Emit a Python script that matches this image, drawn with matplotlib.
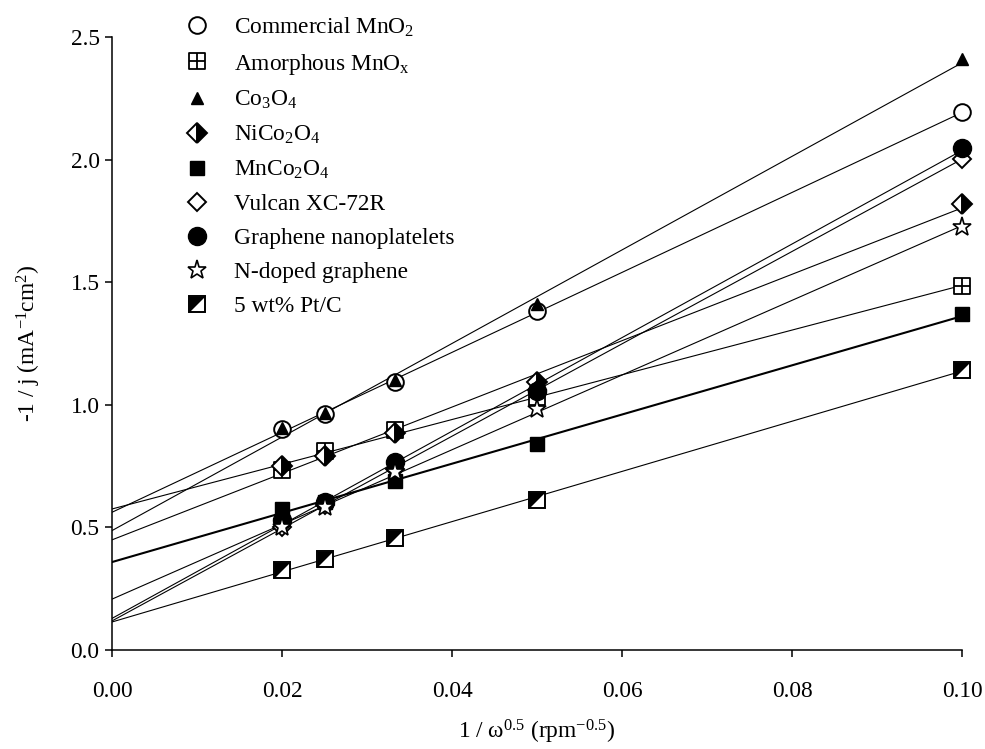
import numpy as np
import matplotlib
matplotlib.use("Agg")
import matplotlib.pyplot as plt
from matplotlib.path import Path
from matplotlib.legend_handler import HandlerTuple

plt.rcParams['font.family'] = ['Liberation Serif', 'DejaVu Serif']
plt.rcParams['mathtext.fontset'] = 'custom'
plt.rcParams['mathtext.rm'] = 'Liberation Serif'
plt.rcParams['mathtext.it'] = 'Liberation Serif:italic'
plt.rcParams['mathtext.default'] = 'regular'

# Rotation rates (rpm) and the resulting 1/omega^0.5 abscissa
rpm = np.array([2500, 1600, 900, 400, 100])
inv_sqrt_omega = rpm ** -0.5

labels = [
    'Commercial MnO$_2$',
    'Amorphous MnO$_x$',
    'Co$_3$O$_4$',
    'NiCo$_2$O$_4$',
    'MnCo$_2$O$_4$',
    'Vulcan XC-72R',
    'Graphene nanoplatelets',
    'N-doped graphene',
    '5 wt% Pt/C',
]

# -1/j (mA^-1 cm^2) at each rotation rate
commercial_mno2 = [0.903, 0.961, 1.093, 1.381, 2.193]
amorphous_mnox = [0.735, 0.812, 0.897, 1.030, 1.484]
co3o4 = [0.905, 0.966, 1.100, 1.410, 2.410]
nico2o4 = [0.750, 0.790, 0.885, 1.095, 1.817]
mnco2o4 = [0.577, 0.605, 0.690, 0.842, 1.369]
vulcan = [0.500, 0.590, 0.740, 1.060, 2.003]
graphene = [0.530, 0.604, 0.765, 1.055, 2.048]
n_graphene = [0.500, 0.583, 0.725, 0.983, 1.724]
pt_c = [0.326, 0.372, 0.456, 0.611, 1.143]

series = [commercial_mno2, amorphous_mnox, co3o4, nico2o4, mnco2o4,
          vulcan, graphene, n_graphene, pt_c]

# Custom marker shapes
boxplus = Path([(-1, -1), (1, -1), (1, 1), (-1, 1), (-1, -1),
                (0, -1), (0, 1), (-1, 0), (1, 0)],
               [Path.MOVETO, Path.LINETO, Path.LINETO, Path.LINETO, Path.CLOSEPOLY,
                Path.MOVETO, Path.LINETO, Path.MOVETO, Path.LINETO])
half_tri = Path([(-1, 1), (1, 1), (-1, -1), (-1, 1)],
                [Path.MOVETO, Path.LINETO, Path.LINETO, Path.CLOSEPOLY])

mec = 'black'
styles = [
    [dict(marker='o', ms=12, mfc='white', mec=mec, mew=1.4)],
    [dict(marker=boxplus, ms=11, mfc='white', mec=mec, mew=1.3)],
    [dict(marker='^', ms=8, mfc='black', mec=mec, mew=1.0)],
    [dict(marker='D', ms=10, mfc='black', mfcalt='white', fillstyle='right',
          mec=mec, mew=1.4)],
    [dict(marker='s', ms=10, mfc='black', mec=mec, mew=1.0)],
    [dict(marker='D', ms=9, mfc='white', mec=mec, mew=1.4)],
    [dict(marker='o', ms=13, mfc='black', mec=mec, mew=1.0)],
    [dict(marker='*', ms=14, mfc='white', mec=mec, mew=1.2)],
    [dict(marker='s', ms=11, mfc='white', mec=mec, mew=1.4),
     dict(marker=half_tri, ms=11, mfc='black', mec='none', mew=0)],
]
line_widths = [0.8, 0.8, 0.8, 0.8, 1.5, 0.8, 0.8, 0.8, 0.8]

fig = plt.figure(figsize=(9.85, 7.49), dpi=100)
ax = fig.add_axes([112 / 985, 1 - 650 / 749, 850 / 985, 613 / 749])

# Koutecky-Levich linear fits, drawn across the full x range
x_fit = np.array([0.0, 0.1])
for y, lw in zip(series, line_widths):
    slope, intercept = np.polyfit(inv_sqrt_omega, y, 1)
    ax.plot(x_fit, intercept + slope * x_fit, color='black', lw=lw, zorder=2)

handles = []
for y, st in zip(series, styles):
    parts = []
    for s in st:
        h, = ax.plot(inv_sqrt_omega, y, linestyle='none', clip_on=False,
                     zorder=3, **s)
        parts.append(h)
    handles.append(tuple(parts) if len(parts) > 1 else parts[0])

ax.set_xlim(0, 0.1)
ax.set_ylim(0, 2.5)
ax.set_xticks(np.arange(0, 0.1001, 0.02))
ax.set_yticks(np.arange(0, 2.501, 0.5))
ax.xaxis.set_major_formatter(matplotlib.ticker.FormatStrFormatter('%.2f'))
ax.yaxis.set_major_formatter(matplotlib.ticker.FormatStrFormatter('%.1f'))

for side in ('top', 'right'):
    ax.spines[side].set_visible(False)
for side in ('left', 'bottom'):
    ax.spines[side].set_linewidth(1.1)
ax.tick_params(direction='out', length=5, width=1.1, labelsize=16.8)
ax.tick_params(axis='x', pad=17)
ax.tick_params(axis='y', pad=4)

ax.set_xlabel('1 / ω$^{0.5}$ (rpm$^{-0.5}$)', fontsize=16.8, labelpad=12)
ax.set_ylabel('-1 / j (mA$^{-1}$cm$^{2}$)', fontsize=16.8, labelpad=20)

leg = ax.legend(handles, labels, loc='upper left',
                bbox_to_anchor=(171 / 985, 1 - 4 / 749),
                bbox_transform=fig.transFigure,
                frameon=False, fontsize=16.8, handlelength=1.2,
                handletextpad=1.0, labelspacing=0.54, borderpad=0,
                handler_map={tuple: HandlerTuple(ndivide=1)})

fig.savefig('out.png', dpi=100)
